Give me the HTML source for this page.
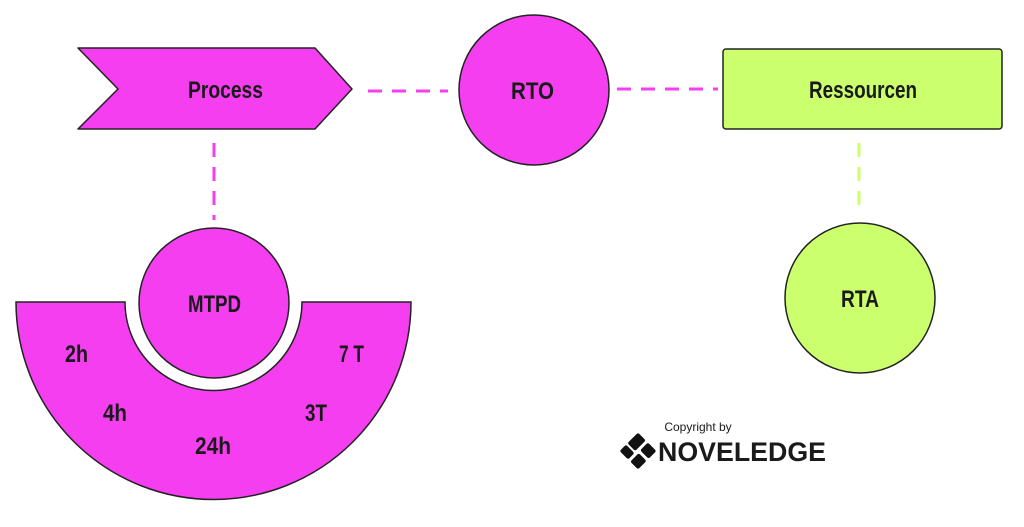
<!DOCTYPE html>
<html><head><style>
html,body{margin:0;padding:0;background:#fff;width:1024px;height:527px;overflow:hidden}
text{font-family:"Liberation Sans",sans-serif;fill:#1a1a1a}
</style></head><body>
<svg width="1024" height="527" viewBox="0 0 1024 527">
<g stroke-width="3" fill="none" stroke-dasharray="14,10">
<line x1="368" y1="91" x2="448" y2="91" stroke="#f53ef0"/>
<line x1="617" y1="89" x2="718" y2="89" stroke="#f53ef0"/>
<line x1="214" y1="143" x2="214" y2="220" stroke="#f53ef0"/>
<line x1="859" y1="143" x2="859" y2="212" stroke="#ccff6e"/>
</g>
<polygon points="78,48 315,48 352,89 315,129 78,129 118,89" fill="#f53ef0" stroke="#222" stroke-width="1.5" stroke-linejoin="round"/>
<text x="188" y="98" font-size="24" font-weight="bold" textLength="75" lengthAdjust="spacingAndGlyphs">Process</text>
<circle cx="534" cy="90" r="75" fill="#f53ef0" stroke="#222" stroke-width="1.5"/>
<text x="511" y="99" font-size="24" font-weight="bold" textLength="43" lengthAdjust="spacingAndGlyphs">RTO</text>
<rect x="723" y="49" width="279" height="80" rx="3" fill="#ccff6e" stroke="#222" stroke-width="1.5"/>
<text x="809" y="98" font-size="24" font-weight="bold" textLength="108" lengthAdjust="spacingAndGlyphs">Ressourcen</text>
<circle cx="860" cy="298" r="75" fill="#ccff6e" stroke="#222" stroke-width="1.5"/>
<text x="841" y="307" font-size="24" font-weight="bold" textLength="38" lengthAdjust="spacingAndGlyphs">RTA</text>
<path d="M16,302 L125,302 A88.5,88.5 0 0 0 302,302 L411,302 A197.5,197.5 0 0 1 16,302 Z" fill="#f53ef0" stroke="#222" stroke-width="1.5"/>
<circle cx="214" cy="303" r="75" fill="#f53ef0" stroke="#222" stroke-width="1.5"/>
<text x="188" y="312" font-size="24" font-weight="bold" textLength="53" lengthAdjust="spacingAndGlyphs">MTPD</text>
<g font-size="24" font-weight="bold">
<text x="65" y="362" textLength="23" lengthAdjust="spacingAndGlyphs">2h</text>
<text x="103" y="421" textLength="24" lengthAdjust="spacingAndGlyphs">4h</text>
<text x="195" y="454" textLength="36" lengthAdjust="spacingAndGlyphs">24h</text>
<text x="305" y="421" textLength="22" lengthAdjust="spacingAndGlyphs">3T</text>
<text x="339" y="362" textLength="25" lengthAdjust="spacingAndGlyphs">7 T</text>
</g>
<text x="698" y="431" font-size="12" text-anchor="middle">Copyright by</text>
<g transform="translate(638,451) rotate(45)" fill="#111">
<rect x="-13" y="-13" width="11" height="15" rx="2"/>
<rect x="1" y="-13" width="12" height="11" rx="2"/>
<rect x="-13" y="4" width="12" height="9" rx="2"/>
<rect x="2" y="1" width="11" height="12" rx="2"/>
</g>
<text x="658" y="461" font-size="27" font-weight="bold" fill="#111" textLength="168" lengthAdjust="spacingAndGlyphs">NOVELEDGE</text>
</svg>
</body></html>
